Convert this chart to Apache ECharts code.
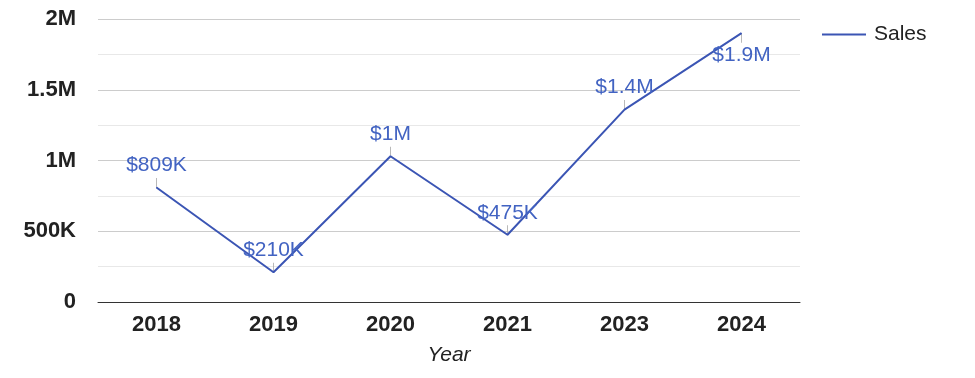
<!DOCTYPE html>
<html>
<head>
    <meta charset="utf-8">
    <title>Sales by Year</title>
    <script src="https://cdn.jsdelivr.net/npm/echarts@6/dist/echarts.min.js"></script>
    <style type="text/css">
        *{margin: 0;padding: 0;}
        body{background: #fff;overflow: hidden;}
        #main{width: 975px;height: 378px;}
    </style>
</head>
<body>
<div id="main"></div>
<script type="text/javascript">
    // data
    var years = ['2018', '2019', '2020', '2021', '2023', '2024'];
    var sales = [809000, 210000, 1030000, 475000, 1360000, 1900000];
    var labelSide = ['top', 'top', 'top', 'top', 'top', 'bottom'];

    function money(v) {
        if (v >= 1000000) {
            return '$' + parseFloat((v / 1000000).toFixed(1)) + 'M';
        }
        return '$' + Math.round(v / 1000) + 'K';
    }
    function axisLab(v) {
        if (v === 0) return '0';
        if (v >= 1000000) return (v / 1000000) + 'M';
        return (v / 1000) + 'K';
    }

    var lineData = [];
    var stemData = [];
    for (var i = 0; i < sales.length; i++) {
        lineData.push({
            value: sales[i],
            label: {position: labelSide[i], distance: 11}
        });
        stemData.push({
            value: sales[i],
            symbolOffset: [0, labelSide[i] === 'top' ? -5 : 5]
        });
    }

    var myChart = echarts.init(document.getElementById('main'));
    var option = {
        animation: false,
        textStyle: {fontFamily: 'Liberation Sans, Arial, sans-serif'},
        grid: {left: 98, right: 175, top: 19, bottom: 76},
        legend: {
            data: [{name: 'Sales', icon: 'rect'}],
            orient: 'vertical',
            left: 817,
            top: 19,
            itemWidth: 44,
            itemHeight: 2,
            itemGap: 10,
            itemStyle: {color: '#3b55b4'},
            textStyle: {fontSize: 21, color: '#222', padding: [0, 0, 0, 3]}
        },
        xAxis: {
            type: 'category',
            data: years,
            boundaryGap: true,
            axisTick: {show: false},
            axisLine: {lineStyle: {color: '#333', width: 1}},
            axisLabel: {fontSize: 22, fontWeight: 'bold', color: '#222', margin: 12},
            name: 'Year',
            nameLocation: 'middle',
            nameGap: 43,
            nameTextStyle: {fontSize: 21, fontStyle: 'italic', color: '#222'}
        },
        yAxis: {
            type: 'value',
            min: 0,
            max: 2000000,
            interval: 500000,
            axisLine: {show: false},
            axisTick: {show: false},
            axisLabel: {fontSize: 22, fontWeight: 'bold', color: '#222', margin: 22, formatter: axisLab},
            splitLine: {lineStyle: {color: '#cccccc'}},
            minorTick: {show: false, splitNumber: 2},
            minorSplitLine: {show: true, lineStyle: {color: '#e8e8e8'}}
        },
        series: [{
            name: 'Sales',
            type: 'line',
            data: lineData,
            symbol: 'circle',
            symbolSize: 1,
            showSymbol: true,
            lineStyle: {color: '#3b55b4', width: 2},
            itemStyle: {color: '#3b55b4'},
            label: {
                show: true,
                fontSize: 21,
                color: '#4263c2',
                formatter: function (p) { return money(p.value); }
            },
            z: 3
        }, {
            name: 'stem',
            type: 'scatter',
            data: stemData,
            symbol: 'rect',
            symbolSize: [1, 9],
            itemStyle: {color: '#a8a8a8'},
            silent: true,
            z: 2
        }]
    };
    myChart.setOption(option);
</script>
</body>
</html>
